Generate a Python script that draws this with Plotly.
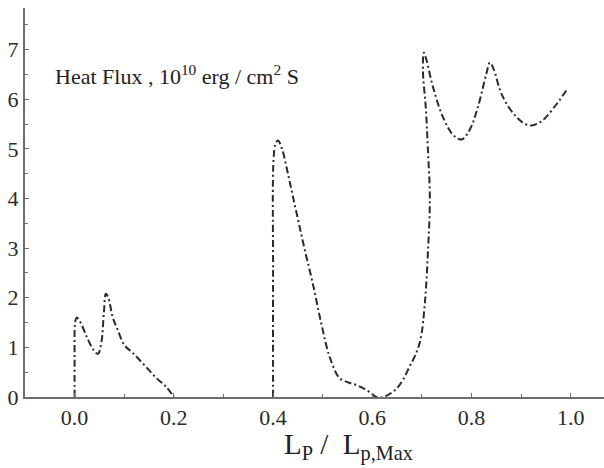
import plotly.graph_objects as go

# Segment 1 (starts at L/Lmax = 0.0)
seg1_x = [0.0, 0.0, 0.001, 0.004, 0.012, 0.025, 0.038, 0.047, 0.054, 0.059, 0.063, 0.068,
          0.077, 0.087, 0.1, 0.117, 0.14, 0.165, 0.185, 0.2]
seg1_y = [0.0, 0.8, 1.5, 1.6, 1.5, 1.2, 0.95, 0.87, 1.1, 1.7, 2.08, 2.0,
          1.6, 1.35, 1.05, 0.89, 0.65, 0.38, 0.2, 0.0]

# Segment 2 (starts at L/Lmax = 0.4)
seg2_x = [0.4, 0.4, 0.401, 0.405, 0.41, 0.418, 0.43, 0.44, 0.452, 0.464, 0.48, 0.497,
          0.514, 0.534, 0.55, 0.568, 0.585, 0.597, 0.608, 0.622, 0.635, 0.649, 0.662,
          0.675, 0.687, 0.697, 0.706, 0.712, 0.716, 0.712, 0.708, 0.702, 0.704, 0.709,
          0.722, 0.742, 0.763, 0.78, 0.796, 0.813, 0.83, 0.837, 0.845, 0.857, 0.87,
          0.89, 0.905, 0.921, 0.94, 0.951, 0.965, 0.978, 0.991]
seg2_y = [0.0, 2.5, 4.8, 5.1, 5.17, 5.0, 4.5, 4.04, 3.5, 2.96, 2.29, 1.49,
          0.81, 0.38, 0.3, 0.24, 0.16, 0.08, 0.0, 0.0, 0.06, 0.17, 0.35,
          0.61, 0.85, 1.15, 1.9, 2.9, 4.0, 5.0, 5.8, 6.6, 6.94, 6.8,
          6.26, 5.65, 5.28, 5.19, 5.38, 5.85, 6.52, 6.74, 6.6, 6.2, 5.92,
          5.65, 5.52, 5.47, 5.55, 5.65, 5.82, 5.99, 6.18]

x_tickvals = [0.0, 0.2, 0.4, 0.6, 0.8, 1.0]
x_ticktext = ["0.0", "0.2", "0.4", "0.6", "0.8", "1.0"]
y_tickvals = [0, 1, 2, 3, 4, 5, 6, 7]
y_ticktext = ["0", "1", "2", "3", "4", "5", "6", "7"]

line_style = dict(color="#2a2a2a", width=2, dash="7px,3px,2px,3px")

fig = go.Figure()
fig.add_trace(go.Scatter(x=seg1_x, y=seg1_y, mode="lines", line=line_style,
                         line_shape="spline", showlegend=False, hoverinfo="skip"))
fig.add_trace(go.Scatter(x=seg2_x, y=seg2_y, mode="lines", line=line_style,
                         line_shape="spline", showlegend=False, hoverinfo="skip"))

font_serif = "Liberation Serif"
axis_common = dict(
    showline=True, linecolor="#6e6e6e", linewidth=2,
    ticks="inside", ticklen=4, tickcolor="#6e6e6e", tickwidth=1,
    showgrid=False, zeroline=False, automargin=False,
    tickfont=dict(family=font_serif, size=22, color="#2a2a2a"),
)

fig.update_layout(
    width=604, height=468,
    margin=dict(l=25, r=0, t=8, b=71),
    plot_bgcolor="white", paper_bgcolor="white",
    xaxis=dict(range=[-0.1, 1.067], tickvals=x_tickvals, ticktext=x_ticktext,
               minor=dict(ticks="inside", dtick=0.1, tick0=0, ticklen=3,
                          tickcolor="#6e6e6e"),
               **axis_common),
    yaxis=dict(range=[0, 7.84], tickvals=y_tickvals, ticktext=y_ticktext,
               ticklabelstandoff=0,
               minor=dict(ticks="inside", dtick=0.5, tick0=0, ticklen=3,
                          tickcolor="#6e6e6e"),
               **axis_common),
    annotations=[
        dict(text="Heat Flux , 10<sup>10</sup> erg / cm<sup>2</sup> S",
             xref="paper", yref="paper", x=0.048, y=0.828,
             xanchor="left", yanchor="middle", showarrow=False,
             font=dict(family=font_serif, size=22, color="#222222")),
        dict(text="L<sub>P</sub> /&nbsp; L<sub>p,Max</sub>",
             xref="paper", yref="paper", x=0.558, y=-0.128,
             xanchor="center", yanchor="middle", showarrow=False,
             font=dict(family=font_serif, size=29, color="#222222")),
    ],
)

fig.write_html("out.html", config={"displayModeBar": False},
               post_script="document.body.style.margin='0';document.body.style.padding='0';")
